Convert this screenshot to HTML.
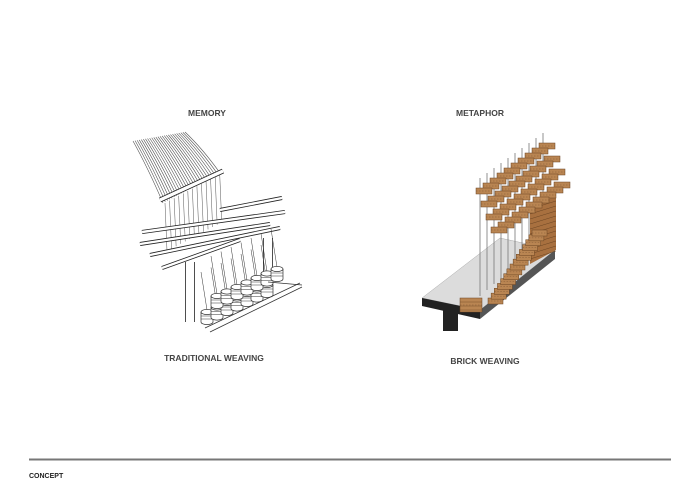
<!DOCTYPE html>
<html><head><meta charset="utf-8"><style>
html,body{margin:0;padding:0;background:#fff;}
svg{display:block;}
text{font-family:"Liberation Sans",sans-serif;font-weight:bold;fill:#444;}
</style></head><body>
<svg id="s" width="700" height="495" viewBox="0 0 700 495" xmlns="http://www.w3.org/2000/svg">
<rect width="700" height="495" fill="#fff"/>
<text x="207" y="116" font-size="8.5" text-anchor="middle">MEMORY</text>
<text x="214" y="361" font-size="8.5" text-anchor="middle">TRADITIONAL WEAVING</text>
<text x="480" y="116" font-size="8.5" text-anchor="middle">METAPHOR</text>
<text x="485" y="364" font-size="8.5" text-anchor="middle">BRICK WEAVING</text>
<line x1="29" y1="459.5" x2="671" y2="459.5" stroke="#777" stroke-width="2"/>
<text x="29" y="478" font-size="7" style="fill:#222">CONCEPT</text>
<g id="loom" stroke="#333" fill="none" stroke-width="0.7"></g>
<g id="brick"></g>
</svg>
<script>
var NS="http://www.w3.org/2000/svg";
function el(p,t,a){var e=document.createElementNS(NS,t);for(var k in a)e.setAttribute(k,a[k]);p.appendChild(e);return e;}
var L=document.getElementById('loom');
for(var i=0;i<26;i++){var t=i/25;
 var x0=133+t*52, y0=141-t*9;
 var x1=163+t*57, y1=203-t*30;
 el(L,'path',{d:'M'+x0+','+y0+' Q'+(x0+x1)/2+','+((y0+y1)/2-4)+' '+x1+','+y1,'stroke-width':0.6,stroke:'#555'});
 if(i%2==0){el(L,'line',{x1:x1+2,y1:y1,x2:x1+4,y2:y1+48,'stroke-width':0.5,stroke:'#555'});}
}
function bar(x1,y1,x2,y2,w){el(L,'line',{x1:x1,y1:y1,x2:x2,y2:y2,'stroke-width':w,stroke:'#222'});el(L,'line',{x1:x1,y1:y1,x2:x2,y2:y2,'stroke-width':w-1.6,stroke:'#fff'});}
bar(160,200,223,171,5);
bar(142,232,285,212,4);
bar(140,244,270,224,4);
bar(150,255,280,228,4);
bar(162,268,240,240,4);
bar(220,210,282,198,4);
bar(190,262,190,322,10);
bar(268,238,268,292,10);
for(var r=0;r<2;r++)for(var c=0;c<7;c++){
 var cx=207+c*10+r*10, cy=312-c*4.5-r*16;
 el(L,'line',{x1:cx,y1:cy-2,x2:cx-6,y2:cy-40,'stroke-width':0.5});
 el(L,'path',{d:'M'+(cx-6)+','+cy+' v10 a6,2.6 0 0 0 12,0 v-10',fill:'#fff'});
 el(L,'ellipse',{cx:cx,cy:cy,rx:6,ry:2.6,fill:'#fff'});
 el(L,'line',{x1:cx-6,y1:cy+4,x2:cx+6,y2:cy+4,'stroke-width':0.5});
 el(L,'line',{x1:cx-6,y1:cy+7,x2:cx+6,y2:cy+7,'stroke-width':0.5});
}
el(L,'path',{d:'M205,328 L300,283 M268,282 L302,285 M210,332 L302,287','stroke-width':0.8});
var B=document.getElementById('brick');
el(B,'polygon',{points:'422,298 480,310 555,250 500,238',fill:'#dcdcdc',stroke:'#aaa','stroke-width':0.5});
el(B,'polygon',{points:'422,298 480,310 480,319 422,306',fill:'#222'});
el(B,'polygon',{points:'480,310 555,250 555,259 480,319',fill:'#555'});
el(B,'rect',{x:443,y:310,width:15,height:21,fill:'#222'});
for(var i=0;i<10;i++){var x=480+i*7, yt=178-i*5;
 el(B,'line',{x1:x,y1:yt,x2:x,y2:296-i*6,stroke:'#777','stroke-width':0.8});}
el(B,'polygon',{points:'530,205 556,196 556,250 530,264',fill:'#a8703f'});
for(var j=0;j<11;j++)el(B,'line',{x1:530,y1:209+j*5,x2:556,y2:201+j*5,stroke:'#6b4523','stroke-width':0.5});
function brick(x,y,w,h){el(B,'rect',{x:x,y:y,width:w,height:h,fill:'#b98552',stroke:'#6b4523','stroke-width':0.5});
 el(B,'line',{x1:x,y1:y+h/2,x2:x+w,y2:y+h/2,stroke:'#7a5030','stroke-width':0.4,'stroke-dasharray':'1.5,1.5'});}
for(var i=9;i>=0;i--){var x=480+i*7, yt=178-i*5;
 for(var j=0;j<4;j++){brick(x-4+j*5, yt+10+j*13, 16, 6);}}
for(var i=0;i<15;i++){var t=i/14; brick(488+t*44,298-t*68,15,6);}
brick(460,298,22,14);
for(var k=0;k<3;k++)el(B,'line',{x1:460,y1:302+k*4,x2:482,y2:302+k*4,stroke:'#6b4523','stroke-width':0.4});
</script>
</body></html>
